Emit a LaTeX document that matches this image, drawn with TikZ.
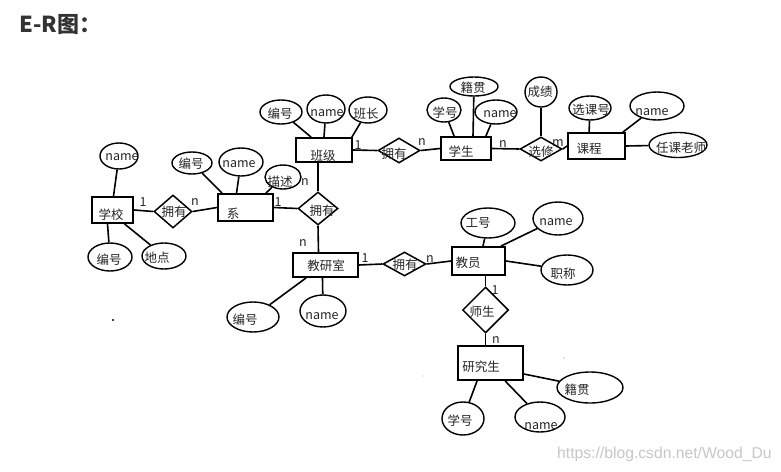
\documentclass[tikz,border=0pt]{standalone}
\usepackage{fontspec}
\newfontfamily\cjk{Noto Sans CJK SC}
\newfontfamily\wmfont{Liberation Sans}
\usetikzlibrary{shapes.geometric}
\newcommand\entbox[6]{\node[ent,minimum width=#3,minimum height=#4] (#1) at (#2) {}; \node[lbl] (#1-t) at (#5) {#6};}
\newcommand\attrbox[6]{\node[attr,minimum width=#3,minimum height=#4] (#1) at (#2) {}; \node[lbl] (#1-t) at (#5) {#6};}
\newcommand\relbox[6]{\node[rel,minimum width=#3,minimum height=#4] (#1) at (#2) {}; \node[lbl] (#1-t) at (#5) {#6};}
\begin{document}
\begin{tikzpicture}[x=1pt,y=-1pt,
  ent/.style={draw, line width=1.8pt, rectangle, inner sep=0pt},
  attr/.style={draw, line width=1.4pt, ellipse, inner sep=0pt},
  rel/.style={draw, line width=1.5pt, diamond, inner sep=0pt},
  lbl/.style={font=\cjk\fontsize{12.5}{14}\selectfont, inner sep=0pt, text=black!85},
  conn/.style={line width=1.6pt},
]
\fill[white] (0,0) rectangle (781,471);
\useasboundingbox (0,0) rectangle (781,471);

% title
\node[anchor=base west, inner sep=0pt, font=\cjk\bfseries\fontsize{22}{24}\selectfont, text=black!80] (title) at (19,32) {E-R图：};

% entities, attributes, relations
\entbox{xx}{112.5,210}{41}{26}{111,215}{学校}
\attrbox{xxn}{119,156}{38}{26}{122,157}{name}
\attrbox{xxb}{110,257}{44}{28}{109,260}{编号}
\attrbox{xxd}{164,256}{44}{26}{157,258}{地点}
\relbox{r1}{173,211.5}{38}{33}{174,212}{拥有}
\entbox{xi}{245.5,207.5}{55}{27}{233,214}{系}
\attrbox{xib}{192,163}{40}{22}{191,164}{编号}
\attrbox{xin}{241,162}{44}{28}{239,164}{name}
\attrbox{xim}{283,177}{36}{24}{280,182}{描述}
\relbox{r2}{318,208.5}{40}{33}{322,211}{拥有}
\entbox{bj}{324,150}{56}{24}{323,156}{班级}
\attrbox{bjb}{281,112}{42}{24}{280,114}{编号}
\attrbox{bjn}{326,109}{38}{28}{327,113}{name}
\attrbox{bjz}{368,110}{38}{26}{366,114}{班长}
\relbox{r3}{399,150.5}{42}{25}{394,154}{拥有}
\entbox{xs}{466,148.5}{50}{23}{461,152}{学生}
\attrbox{xsh}{444,110}{34}{24}{445,113}{学号}
\attrbox{xsj}{474,86.5}{48}{19}{473,88}{籍贯}
\attrbox{xsn}{496,112}{42}{24}{500,114}{name}
\relbox{xiu}{541,149}{42}{24}{541,152}{选修}
\attrbox{cj}{541,92}{32}{30}{540,92}{成绩}
\entbox{kc}{596.5,146}{57}{26}{589,149}{课程}
\attrbox{kch}{590,108}{42}{24}{591,110}{选课号}
\attrbox{kcn}{657,106}{54}{28}{652,112}{name}
\attrbox{kcr}{678,145}{58}{25}{681,148}{任课老师}
\entbox{jys}{325.5,265}{65}{24}{326,266}{教研室}
\attrbox{jysb}{253,317}{52}{30}{245,320}{编号}
\attrbox{jysn}{323,311}{46}{32}{322,316}{name}
\relbox{r4}{404.5,264}{43}{24}{405,265}{拥有}
\entbox{jy}{478.5,261}{53}{28}{468,263}{教员}
\attrbox{jyg}{488,223}{54}{30}{478,223}{工号}
\attrbox{jyn}{558,218.5}{50}{33}{556,222}{name}
\attrbox{jyz}{567,270}{52}{30}{563,274}{职称}
\relbox{r5}{485.5,310}{46}{46}{482,312}{师生}
\entbox{yjs}{490.5,363}{65}{34}{481,367}{研究生}
\attrbox{yjsh}{463,418.5}{42}{33}{460,421}{学号}
\attrbox{yjsn}{540,417}{50}{30}{541,426}{name}
\attrbox{yjsj}{590,387.5}{66}{31}{577,390}{籍贯}

% cardinalities
\node[lbl] (c1) at (143,202) {1};
\node[lbl] (c2) at (195,202) {n};
\node[lbl] (c3) at (278,202) {1};
\node[lbl] (c4) at (305,182) {n};
\node[lbl] (c5) at (303,243) {n};
\node[lbl] (c6) at (358,145) {1};
\node[lbl] (c7) at (422,142) {n};
\node[lbl] (c8) at (503,144) {n};
\node[lbl] (c9) at (558,143) {m};
\node[lbl] (c10) at (365,258) {1};
\node[lbl] (c11) at (430,259) {n};
\node[lbl] (c12) at (495,290) {1};
\node[lbl] (c13) at (496,340) {n};

% relationship connectors
\draw[conn] (xx.east) -- (r1.west);
\draw[conn] (r1.east) -- (xi.west);
\draw[conn] (xi.east) -- (r2.west);
\draw[conn] (r2.north) -- (r2.north |- bj.south);
\draw[conn] (r2.south) -- ([xshift=-7pt]jys.north);
\draw[conn] (bj.east) -- (r3.west);
\draw[conn] (r3.east) -- (xs.west);
\draw[conn] (xs.east) -- (xiu.west);
\draw[conn] (xiu.east) -- (kc.west);
\draw[conn] (xiu.north) -- (cj);
\draw[conn] (jys.east) -- (r4.west);
\draw[conn] (r4.east) -- (jy.west);
\draw[conn] ([xshift=7pt]jy.south) -- (r5.north);
\draw[conn] (r5.south) -- (r5.south |- yjs.north);

% attribute connectors
\draw[conn] ([xshift=1pt]xx.north) -- (xxn);
\draw[conn] ([xshift=-5pt]xx.south) -- (xxb);
\draw[conn] ([xshift=12pt]xx.south) -- (xxd);
\draw[conn] ([xshift=5pt]xi.north west) -- (xib);
\draw[conn] ([xshift=-9pt]xi.north) -- (xin);
\draw[conn] ([xshift=-8pt]xi.north east) -- (xim);
\draw[conn] ([xshift=16pt]bj.north west) -- (bjb);
\draw[conn] (bj.north) -- (bjn);
\draw[conn] ([xshift=-1pt]bj.north east) -- (bjz);
\draw[conn] ([xshift=14pt]xs.north west) -- (xsh);
\draw[conn] ([xshift=7pt]xs.north) -- (xsj);
\draw[conn] ([xshift=-6pt]xs.north east) -- (xsn);
\draw[conn] ([xshift=22pt]kc.north west) -- (kch);
\draw[conn] ([xshift=-3pt]kc.north east) -- (kcn);
\draw[conn] (kc.east) -- (kcr);
\draw[conn] ([xshift=14pt]jys.south west) -- (jysb);
\draw[conn] ([xshift=-3pt]jys.south) -- (jysn);
\draw[conn] ([xshift=4.5pt]jy.north) -- (jyg);
\draw[conn] ([xshift=-5pt]jy.north east) -- (jyn);
\draw[conn] (jy.east) -- (jyz);
\draw[conn] ([xshift=20pt]yjs.south west) -- (yjsh);
\draw[conn] ([xshift=48pt]yjs.south west) -- (yjsn);
\draw[conn] ([yshift=-11pt]yjs.east) -- (yjsj);

% stray dots
\fill (113,320) circle (1.2pt);
\fill[black!40] (564,358) circle (0.6pt);
\fill[black!30] (423,376) circle (0.6pt);

% watermark
\node[anchor=base west, inner sep=0pt, font=\wmfont\fontsize{15.7}{17}\selectfont, text=black!22] (wm) at (557,458) {https://blog.csdn.net/Wood\_Du};
\end{tikzpicture}
\end{document}
